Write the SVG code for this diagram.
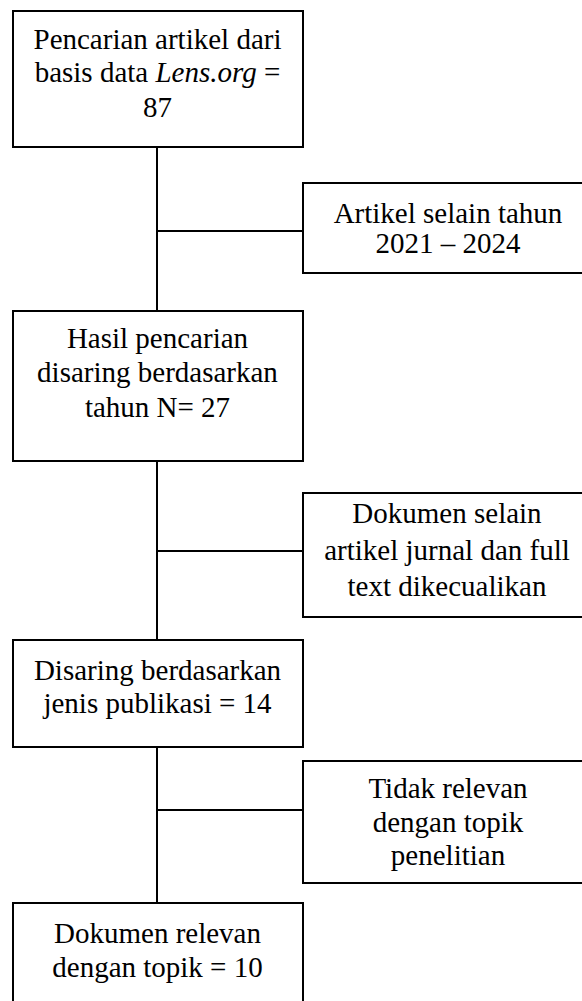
<svg xmlns="http://www.w3.org/2000/svg" width="582" height="1001" viewBox="0 0 582 1001">
<style>
.box{fill:#fff;stroke:#000;stroke-width:2}
.ln{stroke:#000;stroke-width:2;fill:none}
text{font-family:"Liberation Serif","Times New Roman",serif;font-size:29px;fill:#000;text-anchor:middle}
</style>
<rect width="582" height="1001" fill="#fff"/>
<g id="connectors">
<line class="ln" x1="157" y1="147" x2="157" y2="311"/>
<line class="ln" x1="157" y1="231" x2="303" y2="231"/>
<line class="ln" x1="157" y1="461" x2="157" y2="640"/>
<line class="ln" x1="157" y1="551" x2="303" y2="551"/>
<line class="ln" x1="157" y1="747" x2="157" y2="903"/>
<line class="ln" x1="157" y1="810" x2="303" y2="810"/>
</g>
<g id="n1">
<rect class="box" x="13" y="11" width="290" height="136"/>
<text x="157.5" y="49">Pencarian artikel dari</text>
<text x="157.5" y="82">basis data <tspan font-style="italic">Lens.org</tspan> =</text>
<text x="157.5" y="117">87</text>
</g>
<g id="n2">
<rect class="box" x="303" y="183" width="292" height="90"/>
<text x="448" y="223">Artikel selain tahun</text>
<text x="448" y="253">2021 – 2024</text>
</g>
<g id="n3">
<rect class="box" x="13" y="311" width="290" height="150"/>
<text x="157.5" y="348">Hasil pencarian</text>
<text x="157.5" y="382">disaring berdasarkan</text>
<text x="157.5" y="417">tahun N= 27</text>
</g>
<g id="n4">
<rect class="box" x="303" y="493" width="292" height="124"/>
<text x="447" y="523">Dokumen selain</text>
<text x="447" y="560">artikel jurnal dan full</text>
<text x="447" y="596">text dikecualikan</text>
</g>
<g id="n5">
<rect class="box" x="13" y="640" width="290" height="107"/>
<text x="157.5" y="680">Disaring berdasarkan</text>
<text x="157.5" y="713">jenis publikasi = 14</text>
</g>
<g id="n6">
<rect class="box" x="303" y="761" width="292" height="122"/>
<text x="448" y="798">Tidak relevan</text>
<text x="448" y="832">dengan topik</text>
<text x="448" y="865">penelitian</text>
</g>
<g id="n7">
<rect class="box" x="13" y="903" width="290" height="120"/>
<text x="157.5" y="943">Dokumen relevan</text>
<text x="157.5" y="977">dengan topik = 10</text>
</g>
</svg>
